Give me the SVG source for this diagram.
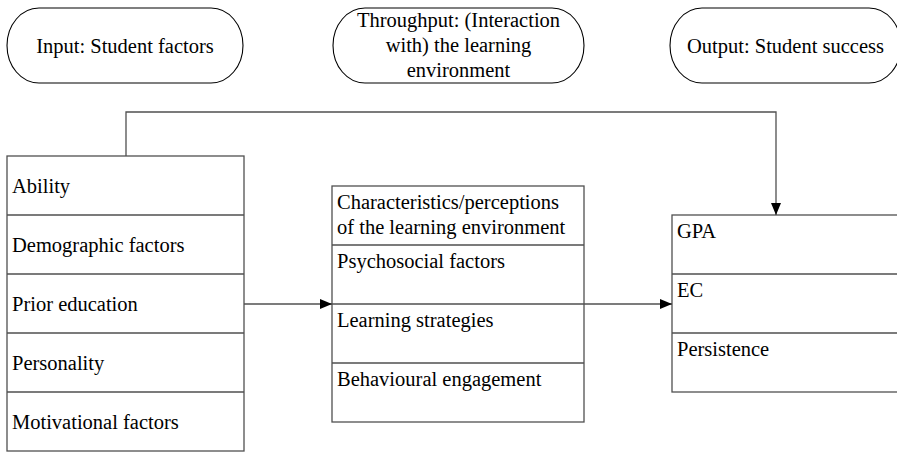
<svg xmlns="http://www.w3.org/2000/svg" width="897" height="452" viewBox="0 0 897 452">
<style>
.t{font-size:20.5px;fill:#000}
.c{text-anchor:middle}
.box{fill:#fff;stroke:#505050;stroke-width:1.3}
.div{stroke:#505050;stroke-width:1.3;fill:none}
.term{fill:#fff;stroke:#000;stroke-width:1.1}
.conn{stroke:#505050;stroke-width:1.3;fill:none}
</style>
<defs>
<marker id="arr" markerWidth="12" markerHeight="10" refX="12" refY="5" orient="auto" markerUnits="userSpaceOnUse">
<path d="M0,0 L12,5 L0,10 Z" fill="#000"/>
</marker>
</defs>
<rect width="897" height="452" fill="#fff"/>
<g font-family="Liberation Serif, Tinos, Times New Roman, DejaVu Serif, serif" class="t">
<g id="input">
<rect class="term" x="7" y="8" width="236" height="75" rx="32" ry="37.5"/>
<text class="c" x="125" y="53">Input: Student factors</text>
</g>
<g id="throughput">
<rect class="term" x="333" y="8" width="251" height="75" rx="32" ry="37.5"/>
<text class="c" x="458.5" y="27">Throughput: (Interaction</text>
<text class="c" x="458.5" y="52">with) the learning</text>
<text class="c" x="458.5" y="77">environment</text>
</g>
<g id="output">
<rect class="term" x="670" y="8" width="231" height="75" rx="32" ry="37.5"/>
<text class="c" x="785.5" y="53">Output: Student success</text>
</g>
<g id="student-factors">
<rect class="box" x="7" y="156" width="237" height="295"/>
<path class="div" d="M7,215H244M7,274H244M7,333H244M7,392H244"/>
<text x="12" y="193">Ability</text>
<text x="12" y="252">Demographic factors</text>
<text x="12" y="311">Prior education</text>
<text x="12" y="370">Personality</text>
<text x="12" y="429">Motivational factors</text>
</g>
<g id="learning-environment">
<rect class="box" x="332" y="186" width="252" height="236"/>
<path class="div" d="M332,245H584M332,304H584M332,363H584"/>
<text x="337" y="209">Characteristics/perceptions</text>
<text x="337" y="234">of the learning environment</text>
<text x="337" y="268">Psychosocial factors</text>
<text x="337" y="327">Learning strategies</text>
<text x="337" y="386">Behavioural engagement</text>
</g>
<g id="student-success">
<rect class="box" x="672" y="215" width="240" height="177"/>
<path class="div" d="M672,274H912M672,333H912"/>
<text x="677" y="238">GPA</text>
<text x="677" y="297">EC</text>
<text x="677" y="356">Persistence</text>
</g>
</g>
<g id="connectors">
<path class="conn" d="M126,156V112H776V215" marker-end="url(#arr)"/>
<path class="conn" d="M244,304H332" marker-end="url(#arr)"/>
<path class="conn" d="M584,304H672" marker-end="url(#arr)"/>
</g>
</svg>
